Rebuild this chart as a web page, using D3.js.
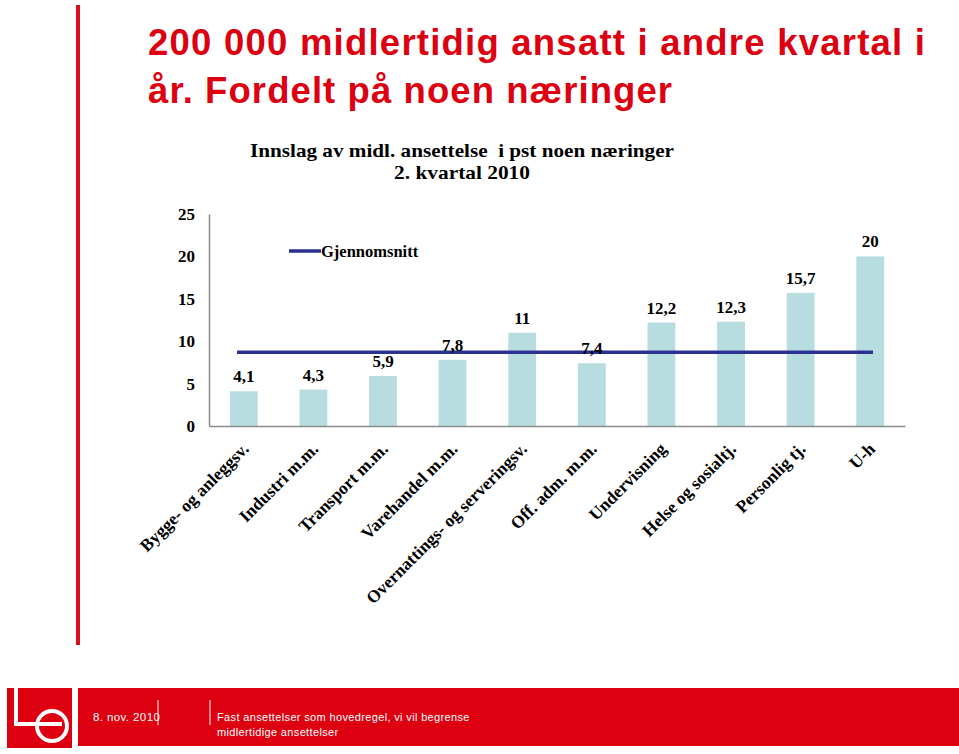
<!DOCTYPE html>
<html><head><meta charset="utf-8">
<script src="https://cdn.jsdelivr.net/npm/d3@7"></script>
<style>body{margin:0;background:#fff}svg{display:block}text{white-space:pre}</style>
</head><body>
<script>
const categories = ["Bygge- og anleggsv.","Industri m.m.","Transport m.m.","Varehandel m.m.","Overnattings- og serveringsv.","Off. adm. m.m.","Undervisning","Helse og sosialtj.","Personlig tj.","U-h"];
const values = [4.1,4.3,5.9,7.8,11,7.4,12.2,12.3,15.7,20];
const average = 8.7;
const yTicks = [0,5,10,15,20,25];
const titleLines = ["200 000 midlertidig ansatt i andre kvartal i","år. Fordelt på noen næringer"];
const chartTitle = ["Innslag av midl. ansettelse  i pst noen næringer","2. kvartal 2010"];
const legendLabel = "Gjennomsnitt";
const footerDate = "8. nov. 2010";
const footerText = ["Fast ansettelser som hovedregel, vi vil begrense","midlertidige ansettelser"];

const W=959,H=754;
const svg=d3.select("body").append("svg").attr("width",W).attr("height",H);
const red="#dc0010";

// left red vertical line
svg.append("rect").attr("x",76).attr("y",5).attr("width",4).attr("height",640).attr("fill","#d8121c");

// slide title
const titleWidths=[777,524];
svg.selectAll("text.t").data(titleLines).enter().append("text")
  .attr("x",148).attr("y",(d,i)=>55+i*48)
  .attr("font-family","Liberation Sans, Arial, sans-serif").attr("font-weight","bold")
  .attr("font-size",36.5).attr("fill",red)
  .attr("textLength",(d,i)=>titleWidths[i]).attr("lengthAdjust","spacing").text(d=>d);

// chart title
const serif="Liberation Serif, Times New Roman, serif";
const ctWidths=[424,136];
svg.selectAll("text.ct").data(chartTitle).enter().append("text")
  .attr("x",(d,i)=>462-ctWidths[i]/2).attr("y",(d,i)=>157+i*22)
  .attr("font-family",serif).attr("font-weight","bold").attr("font-size",19.5)
  .attr("textLength",(d,i)=>ctWidths[i]).attr("lengthAdjust","spacingAndGlyphs")
  .attr("fill","#000").text(d=>d);

// scales
const x=d3.scaleBand().domain(categories).range([209,905]).paddingInner(0.6).paddingOuter(0.3);
const y=d3.scaleLinear().domain([0,25]).range([426,214]);

// bars
svg.selectAll("rect.bar").data(values).enter().append("rect")
  .attr("x",(d,i)=>x(categories[i])).attr("width",x.bandwidth())
  .attr("y",d=>y(d)).attr("height",d=>y(0)-y(d)).attr("fill","#b7dde0");

// axes
const yAxis=svg.append("g").attr("transform","translate(209,0)")
  .call(d3.axisLeft(y).tickValues(yTicks).tickSize(0).tickPadding(14));
yAxis.select(".domain").attr("stroke","#8c8c8c").attr("stroke-width",1.5);
yAxis.selectAll("text").attr("font-family",serif).attr("font-weight","bold").attr("font-size",17).attr("fill","#000");

const xAxis=svg.append("g").attr("transform","translate(0,426)")
  .call(d3.axisBottom(x).tickSize(0).tickFormat(""));
xAxis.select(".domain").attr("stroke","#8c8c8c").attr("stroke-width",1.5);

// category labels
svg.selectAll("text.cat").data(categories).enter().append("text")
  .attr("transform",d=>`translate(${x(d)+x.bandwidth()/2+6},450) rotate(-45)`)
  .attr("text-anchor","end").attr("font-family",serif).attr("font-weight","bold")
  .attr("font-size",17.5).attr("fill","#000").text(d=>d);

// average line
svg.append("line").attr("x1",237).attr("x2",873).attr("y1",y(average)).attr("y2",y(average))
  .attr("stroke","#2b3190").attr("stroke-width",3.5);

// value labels
const fmt=v=>String(v).replace(".",",");
svg.selectAll("text.val").data(values).enter().append("text")
  .attr("x",(d,i)=>x(categories[i])+x.bandwidth()/2).attr("y",d=>y(d)-9)
  .attr("text-anchor","middle").attr("font-family",serif).attr("font-weight","bold")
  .attr("font-size",17).attr("fill","#000").text(fmt);

// legend
svg.append("line").attr("x1",289).attr("x2",321).attr("y1",251).attr("y2",251)
  .attr("stroke","#2b3190").attr("stroke-width",3.5);
svg.append("text").attr("x",321).attr("y",257).attr("font-family",serif).attr("font-weight","bold")
  .attr("font-size",16.5).attr("fill","#000").text(legendLabel);

// footer
svg.append("rect").attr("x",78).attr("y",688).attr("width",W-78).attr("height",58).attr("fill",red);
svg.append("rect").attr("x",7).attr("y",688).attr("width",65).attr("height",60).attr("fill",red);
const logo=svg.append("g").attr("fill","none").attr("stroke","#fff").attr("stroke-width",4);
logo.append("path").attr("d","M16,688 V724 H62");
logo.append("circle").attr("cx",52).attr("cy",726).attr("r",15);

const fsans="Liberation Sans, Arial, sans-serif";
svg.append("text").attr("x",93).attr("y",721).attr("font-family",fsans).attr("font-size",11.5)
  .attr("fill","#fff").attr("letter-spacing",0.4).text(footerDate);
svg.append("line").attr("x1",158).attr("x2",158).attr("y1",700).attr("y2",725).attr("stroke","#fff").attr("stroke-width",1);
svg.append("line").attr("x1",210).attr("x2",210).attr("y1",700).attr("y2",725).attr("stroke","#fff").attr("stroke-width",1);
svg.selectAll("text.ft").data(footerText).enter().append("text")
  .attr("x",217).attr("y",(d,i)=>721+i*15).attr("font-family",fsans).attr("font-size",11)
  .attr("fill","#fff").attr("letter-spacing",0.35).text(d=>d);
</script>
</body></html>
